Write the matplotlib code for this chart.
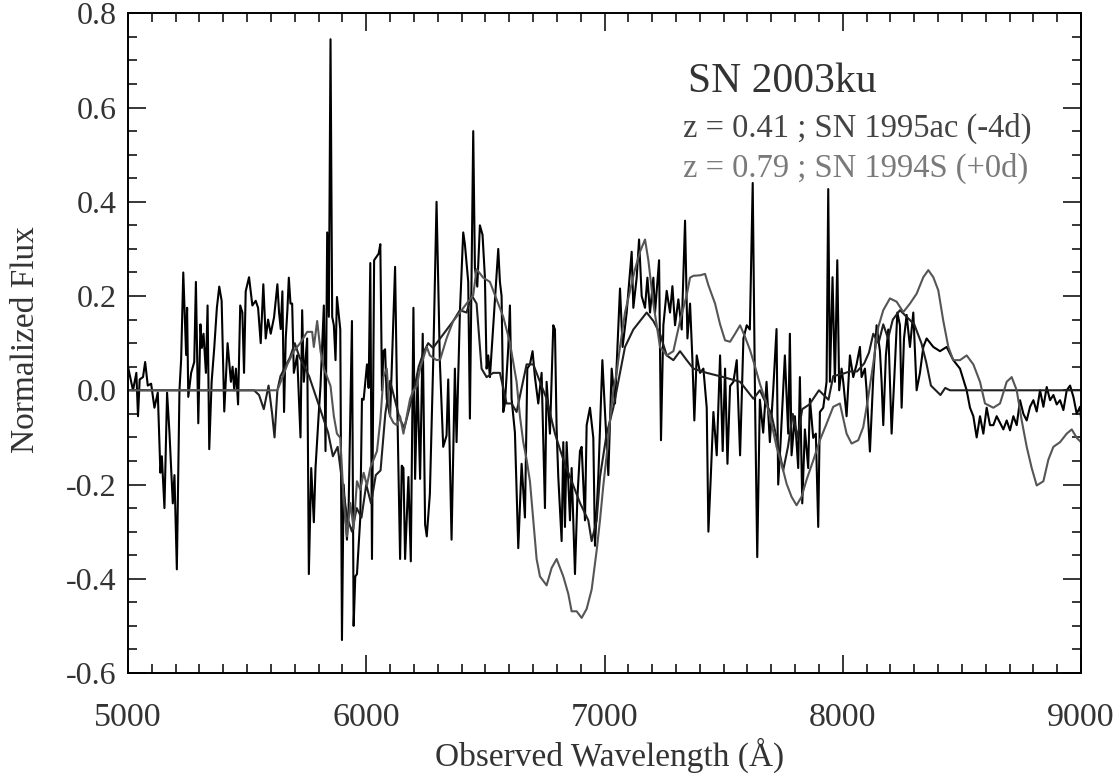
import matplotlib
matplotlib.use("Agg")
import matplotlib.pyplot as plt
from matplotlib.ticker import MultipleLocator, FormatStrFormatter

plt.rcParams['font.family'] = ['Liberation Serif', 'DejaVu Serif']
plt.rcParams['axes.unicode_minus'] = False

obs_wave_a = [5000, 5021, 5035, 5042, 5049, 5063, 5072, 5083, 5097, 5111,
              5125, 5136, 5142, 5153, 5164, 5174, 5188, 5195, 5205, 5216,
              5223, 5232, 5244, 5248, 5253, 5265, 5278, 5285, 5295, 5304,
              5310, 5317, 5327, 5334, 5341, 5351, 5362, 5373, 5383, 5393,
              5404, 5418, 5432, 5439, 5446, 5453, 5462, 5471, 5480, 5487,
              5494, 5508, 5522, 5536, 5546, 5557, 5568, 5578, 5588, 5599,
              5613, 5627, 5634, 5641, 5648]
obs_flux_a = [0.05, 0.0, 0.037, -0.055, 0.023, 0.028, 0.06, 0.01, 0.014, -0.037,
              -0.005, -0.175, -0.14, -0.25, -0.005, -0.09, -0.24, -0.18, -0.38, 0.0,
              0.065, 0.25, 0.075, 0.175, -0.014, 0.037, 0.06, 0.23, -0.07, 0.14,
              0.09, 0.12, 0.037, 0.18, -0.125, 0.018, 0.09, 0.175, 0.22, 0.19,
              -0.045, 0.10, 0.018, 0.05, 0.0, 0.046, -0.03, 0.18, 0.165, 0.037,
              0.21, 0.24, 0.18, 0.19, 0.175, 0.10, 0.225, 0.11, 0.15, 0.12,
              0.155, 0.225, 0.165, 0.13, 0.21]

obs_wave_b = [5655, 5662, 5669, 5675, 5682, 5689, 5696, 5710, 5724, 5731,
              5738, 5752, 5759, 5769, 5780, 5787, 5801, 5808, 5822, 5829,
              5836, 5843, 5850, 5857, 5864, 5871, 5877, 5891, 5898, 5905,
              5919, 5926, 5940, 5947, 5954, 5961, 5975, 5982, 5989, 6003,
              6010, 6017, 6024, 6033, 6045, 6052, 6059, 6066, 6072, 6079,
              6086, 6100, 6107, 6121, 6128, 6142, 6149, 6156, 6163, 6177,
              6187, 6198, 6205, 6215, 6226, 6237, 6247, 6254, 6267, 6281,
              6295, 6309, 6323, 6337, 6344]
obs_flux_b = [-0.046, 0.11, 0.17, 0.239, 0.184, 0.184, 0.037, 0.074, -0.10, 0.17,
              0.018, 0.11, -0.39, -0.165, -0.28, -0.165, -0.046, 0.009, 0.18, -0.129,
              0.335, 0.156, 0.745, 0.156, 0.138, 0.064, 0.198, 0.129, -0.53, -0.20,
              -0.317, -0.25, 0.147, -0.50, -0.395, -0.39, -0.27, -0.018, -0.02, 0.055,
              0.005, 0.27, -0.358, 0.276, 0.285, 0.29, 0.31, 0.0, 0.083, 0.087,
              -0.018, -0.055, 0.046, 0.262, 0.028, -0.358, -0.16, -0.165, -0.358, -0.184,
              -0.363, 0.175, -0.188, 0.028, -0.188, 0.12, -0.285, -0.31, -0.22, 0.06,
              0.40, 0.06, -0.12, -0.096, 0.023]

obs_wave_c = [6358, 6372, 6379, 6393, 6407, 6414, 6428, 6435, 6449, 6456,
              6466, 6477, 6488, 6498, 6505, 6512, 6519, 6554, 6561, 6568,
              6575, 6582, 6596, 6603, 6610, 6624, 6638, 6652, 6666, 6676,
              6687, 6698, 6708, 6722, 6736, 6750, 6757, 6771, 6785, 6792,
              6799, 6806, 6820, 6827, 6834, 6841, 6855, 6862, 6876, 6886,
              6897, 6904, 6918, 6925, 6939, 6953, 6960, 6974, 6991, 7002,
              7016, 7030, 7044, 7065, 7076, 7093, 7114, 7121, 7135, 7145,
              7156, 7170, 7180, 7191, 7205, 7212, 7229, 7237, 7247, 7261,
              7275, 7285, 7296, 7310, 7324, 7338, 7348, 7359, 7369, 7377,
              7387, 7401, 7415, 7429, 7436, 7446, 7457, 7471, 7485, 7496,
              7506, 7516, 7527, 7541, 7555, 7569, 7583, 7597, 7610, 7622,
              7632, 7641]
obs_flux_c = [-0.317, 0.046, -0.11, 0.165, 0.335, 0.31, 0.23, -0.06, 0.55, 0.26,
              0.22, 0.35, 0.33, 0.24, 0.046, 0.074, 0.028, 0.30, 0.23, 0.20,
              -0.046, -0.028, 0.09, 0.18, -0.018, -0.09, -0.335, -0.156, -0.27, 0.046,
              0.055, 0.083, 0.028, -0.028, 0.037, -0.25, 0.018, -0.092, 0.138, 0.129,
              -0.083, -0.184, -0.32, -0.11, -0.29, -0.11, -0.276, -0.165, -0.39, -0.23,
              -0.129, -0.12, -0.276, -0.074, -0.037, -0.101, -0.33, -0.184, 0.064, -0.046,
              -0.18, 0.046, -0.028, 0.216, 0.092, 0.165, 0.294, 0.175, 0.239, 0.32,
              0.20, 0.175, 0.239, 0.165, 0.239, 0.165, 0.276, -0.106, 0.138, 0.211,
              0.165, 0.221, 0.138, 0.193, 0.129, 0.36, 0.11, 0.184, 0.064, -0.064,
              0.074, 0.037, 0.046, -0.037, -0.30, -0.184, -0.046, -0.138, 0.074, -0.129,
              0.046, -0.156, 0.009, 0.018, 0.064, -0.138, 0.11, 0.138, 0.129, 0.44,
              -0.028, -0.354]

obs_wave_d = [7652, 7666, 7680, 7694, 7708, 7722, 7729, 7739, 7757, 7771,
              7778, 7785, 7799, 7813, 7820, 7830, 7841, 7855, 7862, 7876,
              7887, 7897, 7904, 7918, 7932, 7939, 7946, 7957, 7967, 7977,
              7985, 7995, 8002, 8016, 8030, 8044, 8058, 8072, 8079, 8093,
              8100, 8114, 8128, 8142, 8156, 8163, 8170, 8181, 8191, 8205,
              8219, 8229, 8240, 8247, 8257, 8268, 8282, 8296, 8310, 8324,
              8338, 8352, 8380, 8408, 8436, 8464, 8492, 8520, 8534, 8548,
              8562, 8576, 8590, 8604, 8618, 8632, 8646, 8660]
obs_flux_d = [-0.02, -0.09, 0.018, -0.11, 0.0, 0.13, -0.20, -0.11, 0.074, -0.092,
              0.12, -0.138, -0.055, -0.165, 0.028, -0.24, -0.083, -0.165, -0.018, -0.101,
              -0.092, -0.29, -0.046, -0.037, 0.018, 0.427, 0.018, 0.24, 0.018, 0.276,
              0.0, 0.046, 0.018, -0.055, 0.074, 0.028, 0.055, 0.092, 0.028, 0.046,
              0.0, -0.13, 0.028, 0.138, 0.083, 0.018, -0.074, 0.074, 0.129, -0.092,
              0.055, 0.165, 0.138, -0.037, 0.11, 0.16, 0.092, 0.165, 0.0, 0.037,
              0.092, 0.11, 0.092, 0.083, 0.092, 0.064, 0.046, 0.0, -0.037, -0.055,
              -0.10, -0.055, -0.092, -0.037, -0.074, -0.074, -0.055, -0.069]

obs_wave_e = [8674, 8688, 8702, 8716, 8730, 8744, 8758, 8772, 8786, 8800,
              8814, 8828, 8842, 8856, 8870, 8884, 8898, 8912, 8926, 8940,
              8954, 8968, 8982, 8996, 9000]
obs_flux_e = [-0.083, -0.064, -0.085, -0.055, -0.074, -0.021, -0.05, -0.064, -0.035, -0.021,
              -0.045, 0.0, -0.035, 0.007, -0.021, -0.01, -0.03, -0.021, -0.042, 0.0,
              0.01, -0.014, -0.05, -0.035, -0.06]

# SN 1995ac template at z = 0.41 (zero outside its range)
t1_wave = [5000, 5529, 5550, 5570, 5590, 5605, 5615, 5627, 5640, 5660,
           5680, 5700, 5720, 5740, 5760, 5780, 5800, 5820, 5840, 5860,
           5880, 5900, 5920, 5940, 5960, 5980, 6000, 6020, 6040, 6060,
           6080, 6100, 6120, 6140, 6160, 6180, 6200, 6220, 6240, 6260,
           6280, 6310, 6365, 6393, 6421, 6442, 6463, 6484, 6505, 6533,
           6561, 6589, 6610, 6631, 6673, 6701, 6729, 6757, 6792, 6827,
           6869, 6897, 6932, 6946, 6967, 6981, 7009, 7037, 7065, 7086,
           7121, 7149, 7177, 7205, 7233, 7261, 7289, 7317, 7345, 7373,
           7429, 7499, 7569, 7625, 7652, 7680, 7700, 7722, 7750, 7770,
           7790, 7810, 7830, 7860, 7900, 7940, 7960, 8000, 8030, 8060,
           8090, 8110, 8128, 8150, 8170, 8190, 8210, 8240, 8270, 8300,
           8330, 8350, 8370, 8390, 8410, 8430, 8450, 9000]
t1_flux = [0.0, 0.0, -0.01, -0.04, 0.01, -0.05, -0.10, 0.0, 0.03, 0.05,
           0.07, 0.10, 0.07, 0.05, 0.03, 0.0, -0.03, -0.06, -0.09, -0.14,
           -0.12, -0.20, -0.27, -0.30, -0.25, -0.27, -0.20, -0.24, -0.18, -0.17,
           -0.05, 0.02, -0.02, -0.06, -0.08, -0.04, 0.0, 0.05, 0.08, 0.10,
           0.09, 0.11, 0.147, 0.17, 0.165, 0.202, 0.184, 0.046, 0.028, 0.037,
           0.037, -0.028, -0.028, -0.046, 0.055, 0.055, 0.018, -0.018, -0.092, -0.147,
           -0.202, -0.239, -0.276, -0.32, -0.276, -0.184, -0.092, -0.037, 0.037, 0.092,
           0.129, 0.147, 0.165, 0.147, 0.12, 0.074, 0.064, 0.083, 0.064, 0.046,
           0.037, 0.028, 0.018, -0.018, 0.0, -0.03, -0.05, -0.10, -0.17, -0.12,
           -0.05, -0.10, -0.04, -0.03, 0.0, -0.02, 0.03, 0.035, 0.04, 0.04,
           0.057, 0.08, 0.12, 0.10, 0.14, 0.11, 0.15, 0.17, 0.155, 0.14,
           0.10, 0.06, 0.01, 0.0, -0.01, 0.005, 0.0, 0.0]

# SN 1994S template at z = 0.79
t2_wave = [5000, 5627, 5641, 5669, 5696, 5724, 5752, 5773, 5780, 5794,
           5808, 5822, 5836, 5850, 5864, 5877, 5891, 5905, 5919, 5933,
           5947, 5961, 5975, 5989, 6003, 6017, 6031, 6045, 6059, 6072,
           6086, 6100, 6114, 6128, 6142, 6156, 6170, 6184, 6198, 6212,
           6226, 6254, 6267, 6295, 6310, 6337, 6365, 6393, 6421, 6449,
           6463, 6491, 6519, 6547, 6575, 6603, 6631, 6645, 6659, 6673,
           6687, 6701, 6715, 6729, 6757, 6778, 6799, 6827, 6848, 6862,
           6883, 6904, 6925, 6946, 6967, 6981, 6995, 7009, 7023, 7037,
           7051, 7065, 7086, 7107, 7128, 7149, 7170, 7184, 7205, 7233,
           7261, 7289, 7317, 7345, 7359, 7373, 7401, 7422, 7436, 7464,
           7485, 7506, 7527, 7548, 7569, 7590, 7611, 7632, 7652, 7680,
           7701, 7722, 7743, 7764, 7785, 7806, 7827, 7848, 7876, 7904,
           7932, 7960, 7988, 8016, 8037, 8065, 8086, 8107, 8128, 8149,
           8170, 8198, 8226, 8254, 8282, 8310, 8338, 8359, 8380, 8401,
           8422, 8443, 8464, 8492, 8520, 8548, 8576, 8597, 8632, 8660,
           8688, 8709, 8730, 8751, 8772, 8793, 8814, 8842, 8863, 8884,
           8912, 8940, 8961, 8982, 9000]
t2_flux = [0.0, 0.0, 0.018, 0.055, 0.083, 0.101, 0.124, 0.124, 0.092, 0.147,
           0.083, 0.046, 0.028, 0.009, -0.055, -0.092, -0.101, -0.23, -0.31, -0.239,
           -0.294, -0.193, -0.211, -0.175, -0.202, -0.165, -0.147, -0.129, -0.064, 0.028,
           0.046, -0.055, -0.069, -0.074, -0.055, -0.092, -0.055, -0.018, 0.0, 0.009,
           0.046, 0.092, 0.074, 0.064, 0.065, 0.11, 0.147, 0.165, 0.184, 0.202,
           0.257, 0.239, 0.23, 0.193, 0.156, 0.101, 0.018, -0.055, -0.11, -0.147,
           -0.193, -0.276, -0.358, -0.395, -0.414, -0.377, -0.358, -0.395, -0.432, -0.469,
           -0.469, -0.483, -0.464, -0.423, -0.34, -0.276, -0.202, -0.138, -0.064, 0.0,
           0.037, 0.092, 0.165, 0.211, 0.257, 0.294, 0.32, 0.276, 0.184, 0.092,
           0.074, 0.083, 0.147, 0.202, 0.239, 0.243, 0.244, 0.247, 0.223, 0.184,
           0.14, 0.106, 0.103, 0.12, 0.138, 0.113, 0.085, 0.05, 0.014, -0.028,
           -0.07, -0.12, -0.156, -0.198, -0.226, -0.244, -0.226, -0.19, -0.149, -0.106,
           -0.071, -0.035, -0.028, -0.092, -0.113, -0.106, -0.078, -0.014, 0.057, 0.134,
           0.17, 0.195, 0.188, 0.166, 0.184, 0.205, 0.24, 0.255, 0.24, 0.212,
           0.147, 0.092, 0.064, 0.064, 0.074, 0.055, 0.018, -0.028, -0.037, -0.028,
           0.018, 0.028, 0.0, -0.064, -0.12, -0.165, -0.202, -0.193, -0.147, -0.12,
           -0.11, -0.092, -0.083, -0.101, -0.11]

obs_wave = obs_wave_a + obs_wave_b + obs_wave_c + obs_wave_d + obs_wave_e
obs_flux = obs_flux_a + obs_flux_b + obs_flux_c + obs_flux_d + obs_flux_e

fig = plt.figure(figsize=(11.14, 7.75), dpi=100)
ax = fig.add_axes([0.1149, 0.1316, 0.8555, 0.8512])

ax.plot(obs_wave, obs_flux, color='black', lw=1.5)
ax.plot(t1_wave, t1_flux, color='#202020', lw=1.5)
ax.plot(t2_wave, t2_flux, color='#555555', lw=1.5)

ax.set_xlim(5000, 9000)
ax.set_ylim(-0.6, 0.8)
ax.xaxis.set_major_locator(MultipleLocator(1000))
ax.xaxis.set_minor_locator(MultipleLocator(100))
ax.yaxis.set_major_locator(MultipleLocator(0.2))
ax.yaxis.set_minor_locator(MultipleLocator(0.05))
ax.yaxis.set_major_formatter(FormatStrFormatter('%.1f'))

ax.tick_params(which='both', direction='in', top=True, right=True, width=1.1, colors='black')
ax.tick_params(which='major', length=13)
ax.tick_params(which='minor', length=6.5)
ax.tick_params(axis='x', labelsize=24.5, pad=21, labelcolor='#333333')
ax.tick_params(axis='y', labelsize=23, pad=8, labelcolor='#333333')
for s in ax.spines.values():
    s.set_linewidth(1.4)

ax.set_xlabel('Observed Wavelength (Å)', fontsize=24, color='#333333')
ax.set_ylabel('Normalized Flux', fontsize=24, color='#333333')
ax.xaxis.set_label_coords(0.505, -0.098)
ax.yaxis.set_label_coords(-0.091, 0.505)

ax.text(0.588, 0.896, 'SN 2003ku', transform=ax.transAxes, fontsize=30,
        color='#333333', va='center', ha='left')
ax.text(0.582, 0.826, 'z = 0.41 ; SN 1995ac (-4d)', transform=ax.transAxes, fontsize=23.5,
        color='#444444', va='center', ha='left')
ax.text(0.582, 0.765, 'z = 0.79 ; SN 1994S (+0d)', transform=ax.transAxes, fontsize=23.5,
        color='#7a7a7a', va='center', ha='left')

fig.savefig('out.png', dpi=100)
